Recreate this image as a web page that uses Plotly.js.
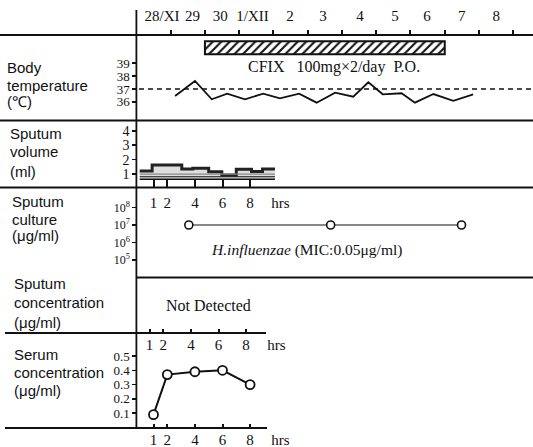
<!DOCTYPE html>
<html>
<head>
<meta charset="utf-8">
<script src="https://cdn.plot.ly/plotly-3.0.1.min.js"></script>
<style>html,body{margin:0;padding:0;background:#fff;}#chart{width:533px;height:447px;}</style>
</head>
<body>
<div id="chart"></div>
<script>
// ---- data ----
const dayLabels = ['28/XI', '29', '30', '1/XII', '2', '3', '4', '5', '6', '7', '8'];
const dayLabelPos = [0.75, 1.64, 2.45, 3.39, 4.48, 5.45, 6.53, 7.55, 8.48, 9.5, 10.5];
const dayTicks = [1, 2, 3, 4, 5, 6, 7, 8, 9, 10, 11];

const tempDays = [1.13, 1.71, 2.20, 2.65, 3.17, 3.70, 4.19, 4.75, 5.26, 5.80, 6.33, 6.77, 7.19, 7.74, 8.13, 8.67, 9.25, 9.83];
const tempValues = [36.46, 37.62, 36.20, 36.64, 36.20, 36.64, 36.28, 36.64, 35.94, 36.71, 36.40, 37.52, 36.59, 36.67, 35.94, 36.61, 36.09, 36.59];
const tempTicks = [36, 37, 38, 39];
const feverLine = 37;

const drugName = ['CFIX'];
const drugStart = [2];
const drugEnd = [9];
const drugText = 'CFIX\u00a0\u00a0\u00a0100mg×2/day\u00a0\u00a0P.O.';

const volHours = [0, 0.9, 3.05, 3.85, 5.0, 5.95, 7.0, 8.1, 8.9, 9.8];
const volValues = [1.2, 1.62, 1.35, 1.4, 1.15, 0.93, 1.33, 1.18, 1.35, 1.35];
const volLayers = [0.63, 0.81, 0.99];
const volTicks = [1, 2, 3, 4];

const cultureDays = [1.53, 5.67, 9.49];
const cultureCounts = [1e7, 1e7, 1e7];
const cultureTicks = [1e5, 1e6, 1e7, 1e8];
const cultureTickText = ['10<sup>5</sup>', '10<sup>6</sup>', '10<sup>7</sup>', '10<sup>8</sup>'];
const organism = '<i>H.influenzae</i> (MIC:0.05μg/ml)';

const sputumConcText = 'Not Detected';

const serumHours = [1, 2, 4, 6, 8];
const serumConc = [0.09, 0.37, 0.39, 0.40, 0.30];
const serumTicks = [0.1, 0.2, 0.3, 0.4, 0.5];

const hourTicks = [1, 2, 4, 6, 8];
const hourLabels = ['1', '2', '4', '6', '8', 'hrs'];
const hourLabelPos = [1, 2, 4, 6, 8, 10.2];

const rowLabels = [
  ['Body', 'temperature', '(℃)'],
  ['Sputum', 'volume', '(ml)'],
  ['Sputum', 'culture', '(μg/ml)'],
  ['Sputum', 'concentration', '(μg/ml)'],
  ['Serum', 'concentration', '(μg/ml)']
];

// ---- layout helpers (pixel -> paper) ----
const W = 533, H = 447;
const px = x => x / W;
const py = y => 1 - y / H;
const SERIF = 'Liberation Serif, Times New Roman, serif';
const SANS = 'Liberation Sans, Arial, sans-serif';
const INK = '#111';
const axisX0 = 136.4;

function hRange(scale, pixelAtZero) { return [(0 - pixelAtZero) / scale, (W - pixelAtZero) / scale]; }
function vRange(valRef, pixRef, scale) { return [valRef - (H - pixRef) / scale, valRef + pixRef / scale]; }

// axis ids
// x  : day tick marks             x4 : day labels
// x2 : hour marks (volume)        x5 : hour labels (volume)
// x3 : hour marks (serum, upper)  x6 : hour labels (serum, upper)
// x8 : hour marks (serum, lower)  x7 : hour labels (serum, lower)
const traces = [];
traces.push({x: tempDays, y: tempValues, type: 'scatter', mode: 'lines', xaxis: 'x', yaxis: 'y',
  line: {color: INK, width: 1.8}, hoverinfo: 'skip'});
traces.push({y: drugName, base: drugStart, x: drugEnd.map((e, i) => e - drugStart[i]), type: 'bar', orientation: 'h',
  xaxis: 'x', yaxis: 'y2', width: 1,
  marker: {color: 'white', line: {color: INK, width: 2},
    pattern: {shape: '/', fgcolor: INK, bgcolor: 'white', size: 6, solidity: 0.35}}, hoverinfo: 'skip'});
const volBase = volHours.map(() => volLayers[0]);
traces.push({x: volHours, y: volBase, type: 'scatter', mode: 'lines', xaxis: 'x2', yaxis: 'y3',
  line: {color: INK, width: 1.5}, hoverinfo: 'skip'});
traces.push({x: volHours, y: volValues, type: 'scatter', mode: 'lines', xaxis: 'x2', yaxis: 'y3',
  line: {color: '#222', width: 3, shape: 'hv'}, fill: 'tonexty', fillcolor: 'rgba(0,0,0,0.13)', hoverinfo: 'skip'});
traces.push({x: volHours, y: volHours.map(() => volLayers[1]), type: 'scatter', mode: 'lines', xaxis: 'x5', yaxis: 'y3',
  line: {color: INK, width: 1.2}, hoverinfo: 'skip'});
traces.push({x: volHours, y: volHours.map(() => volLayers[2]), type: 'scatter', mode: 'lines', xaxis: 'x5', yaxis: 'y3',
  line: {color: '#888', width: 1.2}, hoverinfo: 'skip'});
traces.push({x: cultureDays, y: cultureCounts, type: 'scatter', mode: 'lines+markers', xaxis: 'x4', yaxis: 'y4',
  line: {color: INK, width: 1.2}, marker: {symbol: 'circle', size: 8, color: 'white', line: {color: INK, width: 1.6}},
  hoverinfo: 'skip'});
// serum axes without their own marks get a mark-less trace so Plotly draws them
['x3', 'x6', 'x7'].forEach(ax => traces.push({x: serumHours, y: serumConc, type: 'scatter', mode: 'none',
  xaxis: ax, yaxis: 'y5', hoverinfo: 'skip'}));
traces.push({x: serumHours, y: serumConc, type: 'scatter', mode: 'lines+markers', xaxis: 'x8', yaxis: 'y5',
  line: {color: INK, width: 2}, marker: {symbol: 'circle', size: 9, color: 'white', line: {color: INK, width: 1.8}},
  hoverinfo: 'skip'});

const hiddenBase = {showgrid: false, zeroline: false, showline: false, fixedrange: true};
const yTickBase = Object.assign({}, hiddenBase, {domain: [0, 1], anchor: 'free', position: px(axisX0), side: 'left',
  ticks: 'outside', ticklen: 4, tickwidth: 1.5, tickcolor: INK, tickmode: 'array'});
const hrsScale = 13.8;
const dayRange = hRange(34.26, axisX0);
const hrsRange = hRange(hrsScale, 139.7);
const hrsRangeMid = hRange(hrsScale, 135.7);

function labelAxis(range, yPix, side, vals, text, size, standoff) {
  return Object.assign({}, hiddenBase, {domain: [0, 1], range: range, anchor: 'free', position: py(yPix), side: side,
    ticks: '', tickmode: 'array', tickvals: vals, ticktext: text,
    tickfont: {family: SERIF, size: size, color: INK}, ticklabelstandoff: standoff});
}
function markAxis(range, yPix, side, vals, dir, len) {
  return Object.assign({}, hiddenBase, {domain: [0, 1], range: range, anchor: 'free', position: py(yPix), side: side,
    ticks: dir, ticklen: len, tickwidth: 2, tickcolor: INK, tickmode: 'array', tickvals: vals, showticklabels: false});
}

const layout = {
  width: W, height: H, margin: {l: 0, r: 0, t: 0, b: 0},
  paper_bgcolor: 'white', plot_bgcolor: 'rgba(0,0,0,0)', showlegend: false,
  xaxis: Object.assign(markAxis(dayRange, 34, 'top', dayTicks, 'outside', 4), {showline: true, linecolor: INK, linewidth: 1.8}),
  xaxis2: markAxis(hrsRange, 179.3, 'bottom', hourTicks, 'outside', 7),
  xaxis3: markAxis(hrsRangeMid, 333, 'bottom', hourTicks, 'inside', 4),
  xaxis4: labelAxis(dayRange, 34, 'top', dayLabelPos, dayLabels, 15, 10),
  xaxis5: labelAxis(hrsRange, 179.3, 'bottom', hourLabelPos, hourLabels, 15, 13),
  xaxis6: labelAxis(hrsRangeMid, 333, 'bottom', hourLabelPos, hourLabels, 15, 1),
  xaxis7: labelAxis(hrsRange, 428, 'bottom', hourLabelPos, hourLabels, 15, 1),
  xaxis8: markAxis(hrsRange, 428, 'bottom', hourTicks, 'inside', 4),
  yaxis: Object.assign({}, yTickBase, {range: vRange(37, 89, 12.9), tickvals: tempTicks,
    tickfont: {family: SERIF, size: 13, color: INK}}),
  yaxis2: Object.assign({}, hiddenBase, {domain: [0, 1], anchor: 'free', position: 0, type: 'category', categoryarray: drugName,
    range: vRange(0, 47.8, 13), showticklabels: false, ticks: ''}),
  yaxis3: Object.assign({}, yTickBase, {range: vRange(0, 188.4, 14.4), tickvals: volTicks,
    tickfont: {family: SERIF, size: 14, color: INK}}),
  yaxis4: Object.assign({}, yTickBase, {type: 'log', range: vRange(7, 225, 17.5), tickvals: cultureTicks, ticktext: cultureTickText,
    tickfont: {family: SERIF, size: 12, color: INK}}),
  yaxis5: Object.assign({}, yTickBase, {range: vRange(0, 427.5, 143), tickvals: serumTicks, ticktext: serumTicks.map(v => v.toFixed(1)),
    tickfont: {family: SERIF, size: 13, color: INK}}),
  shapes: [],
  annotations: []
};

const ln = (x0, y0, x1, y1, w) => ({type: 'line', xref: 'paper', yref: 'paper', x0: px(x0), y0: py(y0), x1: px(x1), y1: py(y1),
  line: {color: INK, width: w || 1.8}, layer: 'above'});
layout.shapes.push(ln(axisX0, 10, axisX0, 428));
layout.shapes.push(ln(0, 120.5, W, 120.5));
layout.shapes.push(ln(0, 187.5, W, 187.5));
layout.shapes.push(ln(axisX0, 277.5, W, 277.5));
layout.shapes.push(ln(5, 333, 266, 333));
layout.shapes.push(ln(5, 428, 267, 428));
layout.shapes.push({type: 'line', xref: 'paper', yref: 'y', x0: px(139), x1: 1, y0: feverLine, y1: feverLine,
  line: {color: INK, width: 1.3, dash: '5px,4px'}});

const rowLabelPos = [
  {x: 5, ys: [68, 85, 101.5]},
  {x: 8, ys: [133.3, 151.7, 171.7]},
  {x: 10, ys: [202, 219, 235]},
  {x: 11.5, ys: [283, 302, 322.7]},
  {x: 11.5, ys: [354.5, 372, 390]}
];
rowLabels.forEach((lines, i) => {
  lines.forEach((t, j) => {
    layout.annotations.push({text: t, xref: 'paper', yref: 'paper', x: px(rowLabelPos[i].x), y: py(rowLabelPos[i].ys[j]),
      xanchor: 'left', yanchor: 'middle', showarrow: false, font: {family: SANS, size: 15, color: INK}});
  });
});
const note = (t, x, y, size) => ({text: t, xref: 'paper', yref: 'paper', x: px(x), y: py(y), xanchor: 'center', yanchor: 'middle',
  showarrow: false, font: {family: SERIF, size: size, color: INK}});
layout.annotations.push(note(drugText, 333.5, 67, 16));
layout.annotations.push(note(organism, 306, 250, 15.5));
layout.annotations.push(note(sputumConcText, 208, 305, 16));

Plotly.newPlot('chart', traces, layout, {staticPlot: true, displayModeBar: false});
</script>
</body>
</html>
